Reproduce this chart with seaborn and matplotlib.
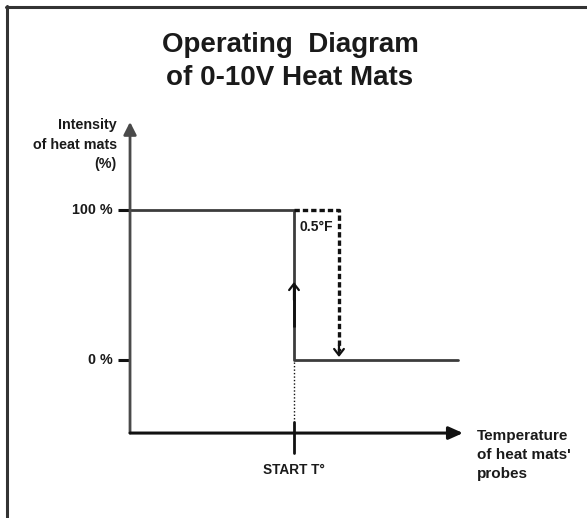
import matplotlib
matplotlib.use("Agg")
import matplotlib.pyplot as plt
from matplotlib.lines import Line2D
import numpy as np
import pandas as pd
import seaborn as sns

# Heat-mat intensity levels (%) and the switching temperatures
intensity_levels = [0, 100]
start_temp = 0.0          # START T° (reference point on the temperature axis)
hysteresis = 0.5          # °F differential before the mats switch off
temp_min = -1.822         # left end of the temperature axis
temp_max = 1.822          # right end of the 0 % line
y_tick_labels = ["0 %", "100 %"]

sns.set_theme(style="white")
plt.rcParams["font.family"] = ["Liberation Sans", "DejaVu Sans"]
plt.rcParams["font.weight"] = "bold"

TXT = "#1a1a1a"
W, H, DPI = 587, 518, 100
fig = plt.figure(figsize=(W / DPI, H / DPI), dpi=DPI)
ax = fig.add_axes([0, 0, 1, 1])
ax.set_xlim(-3.2667, 3.2556)
ax.set_ylim(-105.33, 240)
ax.axis("off")

lo, hi = intensity_levels
axis_bottom = -48.7
axis_top = 158.7

# Operating curve: full power up to START T°, then off
curve = pd.DataFrame({
    "temp": [temp_min, start_temp, start_temp, temp_max],
    "intensity": [hi, hi, lo, lo],
})
sns.lineplot(data=curve, x="temp", y="intensity", sort=False, estimator=None,
             color="#3c3c3c", lw=2, ax=ax)

# Axes with arrowheads
ax.annotate("", xy=(temp_min, axis_top), xytext=(temp_min, axis_bottom),
            arrowprops=dict(arrowstyle="-|>,head_length=0.75,head_width=0.38",
                            color="#4a4a4a", lw=2, shrinkA=0, shrinkB=0,
                            mutation_scale=10))
ax.annotate("", xy=(1.878, axis_bottom), xytext=(temp_min, axis_bottom),
            arrowprops=dict(arrowstyle="-|>,head_length=0.85,head_width=0.38",
                            color="#111111", lw=2.2, shrinkA=0, shrinkB=0,
                            mutation_scale=10))

# Y ticks
for lvl, lab in zip(intensity_levels, y_tick_labels):
    ax.plot([-1.956, temp_min], [lvl, lvl], color="#111111", lw=2.2,
            solid_capstyle="butt")
    ax.text(-2.011, lvl, lab, ha="right", va="center", fontsize=10.3,
            fontweight="bold", color=TXT)

# Rising arrow on the switching edge
ax.plot([start_temp, start_temp], [22, 50], color="#111111", lw=2,
        solid_capstyle="butt")
ax.annotate("", xy=(start_temp, 52), xytext=(start_temp, 40),
            arrowprops=dict(arrowstyle="->,head_length=0.45,head_width=0.35",
                            color="#111111", lw=1.6, shrinkA=0, shrinkB=0,
                            mutation_scale=10))

# Hysteresis (dashed) return path
ax.plot([start_temp, start_temp + hysteresis, start_temp + hysteresis],
        [hi, hi, 6], color="#111111", lw=2.4, ls=(0, (1.6, 0.9)),
        dash_capstyle="butt")
ax.annotate("", xy=(start_temp + hysteresis, 2),
            xytext=(start_temp + hysteresis, 10),
            arrowprops=dict(arrowstyle="->,head_length=0.45,head_width=0.35",
                            color="#111111", lw=1.6, shrinkA=0, shrinkB=0,
                            mutation_scale=10))
ax.text(start_temp + 0.056, 88.7, "0.5°F", ha="left", va="center",
        fontsize=10, fontweight="bold", color=TXT)

# START T° marker
ax.plot([start_temp, start_temp], [lo - 1.5, -41.3], color="#111111", lw=1,
        ls=(0, (1, 1.5)))
ax.plot([start_temp, start_temp], [-41.3, -62], color="#111111", lw=2)
ax.text(start_temp, -73, "START T°", ha="center", va="center",
        fontsize=9.8, fontweight="bold", color=TXT)

# Axis titles
ax.text(-1.967, 143.5, "Intensity\nof heat mats\n(%)", ha="right",
        va="center", fontsize=10.3, fontweight="bold", color=TXT,
        linespacing=1.5)
ax.text(2.033, -63.5, "Temperature\nof heat mats'\nprobes", ha="left",
        va="center", fontsize=11, fontweight="bold", color=TXT,
        linespacing=1.45)

# Title
fig.text(290 / W, 1 - 52 / H, "Operating  Diagram", ha="center",
         va="baseline", fontsize=20, fontweight="bold", color=TXT)
fig.text(290 / W, 1 - 85 / H, "of 0-10V Heat Mats", ha="center",
         va="baseline", fontsize=20, fontweight="bold", color=TXT)

# Frame (top and left edges)
fig.add_artist(Line2D([6 / W, 1], [1 - 6.5 / H, 1 - 6.5 / H],
                      transform=fig.transFigure, color="#333333", lw=2.2))
fig.add_artist(Line2D([6.5 / W, 6.5 / W], [0, 1 - 6 / H],
                      transform=fig.transFigure, color="#333333", lw=2.2))

fig.savefig("out.png", dpi=DPI, facecolor="white")
